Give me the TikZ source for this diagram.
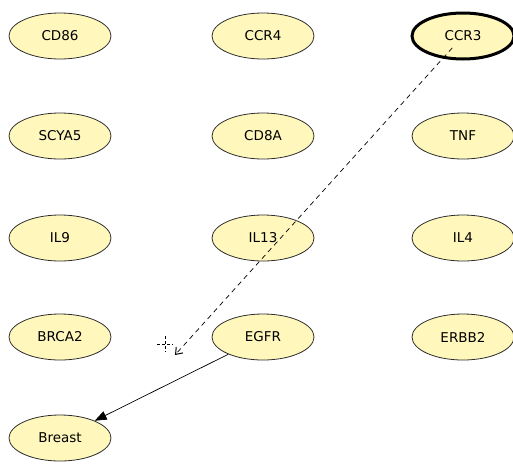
\documentclass[tikz,border=0pt]{standalone}
\usepackage{fontspec}
\setmainfont{DejaVu Sans}
\usepackage{tikz}
\usetikzlibrary{positioning,shapes,arrows.meta,calc}
\definecolor{genefill}{HTML}{FFF7BC}
\definecolor{geneline}{HTML}{2E2E2E}

\tikzset{
  gene/.style={ellipse, draw=geneline, fill=genefill, line width=0.8pt,
    minimum width=102pt, minimum height=46pt, inner sep=0pt,
    font=\fontsize{13.5}{15}\selectfont},
  picked/.style={line width=3pt, draw=black},
  link/.style={line width=0.7pt, -{Triangle[length=12pt,width=9pt]}},
  drag/.style={line width=0.7pt, dash pattern=on 5pt off 4pt,
    -{Straight Barb[length=6pt,width=9pt,line width=1pt]}}
}

\begin{document}
\begin{tikzpicture}[x=1pt, y=-1pt]
  \useasboundingbox (0,0) rectangle (513,464);
  \foreach \name/\x/\y in {CD86/60/36, CCR4/263/36,
      SCYA5/60/136, CD8A/263/136, TNF/463/136,
      IL9/60/238, IL13/263/238, IL4/463/238,
      BRCA2/60/337, EGFR/263/337, ERBB2/463/337,
      Breast/60/438} {
    \node[gene] (\name) at (\x,\y) {\name};
  }
  \node[gene, picked] (CCR3) at (463,36) {CCR3};

  % edge being dragged out of CCR3
  \coordinate (tip) at (175,355);
  \draw[drag] ($(CCR3.center)!16pt!(tip)$) -- (tip);
  \draw[line width=0.6pt, dash pattern=on 3pt off 2pt] (157,344) -- (173,344);
  \draw[line width=0.6pt, dash pattern=on 3pt off 2pt] (165,336) -- (165,352);

  \draw[link] (EGFR) -- (Breast);
\end{tikzpicture}
\end{document}
